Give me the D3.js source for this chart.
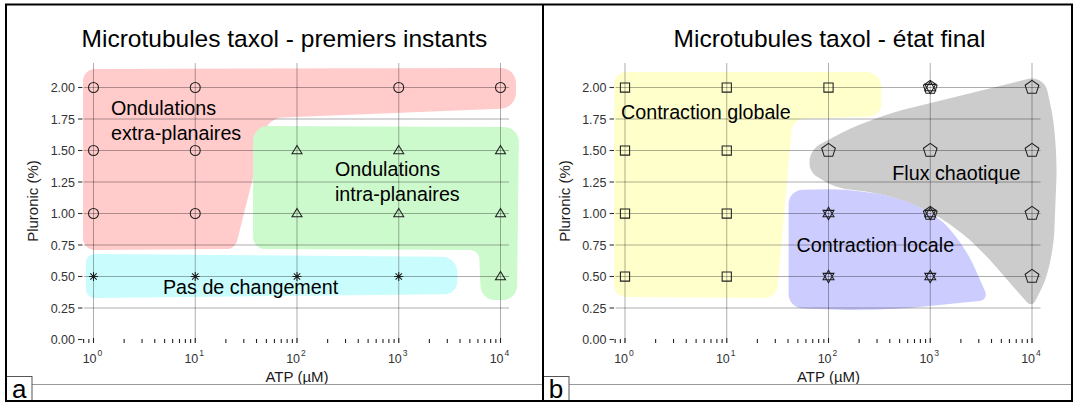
<!DOCTYPE html>
<html><head><meta charset="utf-8">
<script src="https://cdn.jsdelivr.net/npm/d3@7"></script>
<style>
body{margin:0;background:#fff}
svg{display:block}
text{font-family:"Liberation Sans",Arial,sans-serif}
</style>
</head><body>
<svg id="chart" width="1075" height="403"></svg>
<script>
// ---------- data ----------
const xTickValues = [1, 10, 100, 1000, 10000];
const xTickExponents = ["0", "1", "2", "3", "4"];
const yTickValues = [0, 0.25, 0.5, 0.75, 1, 1.25, 1.5, 1.75, 2];
const yTickLabels = ["0.00", "0.25", "0.50", "0.75", "1.00", "1.25", "1.50", "1.75", "2.00"];
const titles = ["Microtubules taxol - premiers instants", "Microtubules taxol - état final"];
const panelLetters = ["a", "b"];
const xAxisTitle = "ATP (µM)";
const yAxisTitle = "Pluronic (%)";

// panel a : [ATP µM, Pluronic %]
const ondulationsExtra = [[1,2],[10,2],[1000,2],[10000,2],[1,1.5],[10,1.5],[1,1],[10,1]];
const ondulationsIntra = [[100,1.5],[1000,1.5],[10000,1.5],[100,1],[1000,1],[10000,1],[10000,0.5]];
const pasDeChangement = [[1,0.5],[10,0.5],[100,0.5],[1000,0.5]];
// panel b
const contractionGlobale = [[1,2],[10,2],[100,2],[1,1.5],[10,1.5],[1,1],[10,1],[1,0.5],[10,0.5]];
const fluxChaotique = [[1000,2],[10000,2],[100,1.5],[1000,1.5],[10000,1.5],[1000,1],[10000,1],[10000,0.5]];
const contractionLocale = [[1000,2],[100,1],[1000,1],[100,0.5],[1000,0.5]];

// region outlines : [log10 ATP, Pluronic %]
const regionExtra = [[-0.103,2.147],[4.152,2.155],[4.152,1.837],[1.715,1.758],[1.391,0.718],[-0.103,0.710]];
const regionIntra = [[1.568,1.694],[4.182,1.687],[4.162,0.313],[3.808,0.313],[3.789,0.710],[1.568,0.718]];
const regionPas = [[-0.074,0.679],[3.575,0.655],[3.575,0.361],[-0.074,0.329]];
const regionGlobale = [[-0.108,2.123],[2.520,2.123],[2.520,1.773],[1.647,1.75],[1.490,0.329],[-0.108,0.337]];
const regionFlux = [[1.814,1.504],[2.402,1.758],[4.118,2.099],[4.255,1.583],[4.206,0.591],[4.0,0.25],
  [3.775,0.456],[3.529,0.687],[3.235,0.901],[2.892,1.060],[2.5,1.163],[2.069,1.202],[1.814,1.329]];
const regionLocale = [[1.608,1.187],[2.294,1.195],[2.941,1.067],[3.314,0.790],[3.578,0.313],[2.5,0.226],[1.608,0.25]];

// region labels : lines and anchor [log10 ATP, Pluronic %]
const labelExtra = ["Ondulations", "extra-planaires"], anchorExtra = [0.172, 1.782];
const labelIntra = ["Ondulations", "intra-planaires"], anchorIntra = [2.373, 1.298];
const labelPas = ["Pas de changement"], anchorPas = [0.683, 0.363];
const labelGlobale = ["Contraction globale"], anchorGlobale = [-0.039, 1.75];
const labelFlux = ["Flux chaotique"], anchorFlux = [2.627, 1.266];
const labelLocale = ["Contraction locale"], anchorLocale = [1.686, 0.694];

// ---------- layout / style ----------
const svg = d3.select("#chart");
svg.append("rect").attr("width",1075).attr("height",403).attr("fill","#fff");

const x = d3.scaleLog().domain([1, 10000]).range([93.5, 500.5]);
const y = d3.scaleLinear().domain([0, 2]).range([339.5, 87.5]);
const panelLeft = 84, panelRight = 509, panelTop = 63, panelBottom = 343;

function roundedPath(pts, radii) {
  const n = pts.length; let d = "";
  for (let i = 0; i < n; i++) {
    const p0 = pts[(i - 1 + n) % n], p1 = pts[i], p2 = pts[(i + 1) % n];
    const r = radii[i];
    const d1 = Math.hypot(p0[0]-p1[0], p0[1]-p1[1]), d2 = Math.hypot(p2[0]-p1[0], p2[1]-p1[1]);
    const r1 = Math.min(r, d1/2), r2 = Math.min(r, d2/2);
    const a = [p1[0] + (p0[0]-p1[0])*r1/d1, p1[1] + (p0[1]-p1[1])*r1/d1];
    const b = [p1[0] + (p2[0]-p1[0])*r2/d2, p1[1] + (p2[1]-p1[1])*r2/d2];
    const k = 0.552;
    const c1 = [a[0] + (p1[0]-a[0])*k, a[1] + (p1[1]-a[1])*k];
    const c2 = [b[0] + (p1[0]-b[0])*k, b[1] + (p1[1]-b[1])*k];
    d += (i === 0 ? "M" : "L") + a[0] + "," + a[1] + "C" + c1[0] + "," + c1[1] + " " + c2[0] + "," + c2[1] + " " + b[0] + "," + b[1];
  }
  return d + "Z";
}

// marker path generators
const shapes = {
  circle: () => "M5,0A5,5 0 1,1 -5,0A5,5 0 1,1 5,0Z",
  triangle: () => "M0,-5L5,3.2L-5,3.2Z",
  asterisk: () => "M0,-4.5V4.5M-4.5,0H4.5M-3.2,-3.2L3.2,3.2M-3.2,3.2L3.2,-3.2",
  square: () => "M-4.6,-4.6H4.6V4.6H-4.6Z",
  pentagon: () => {
    const R = 7.2; let d = "";
    for (let i = 0; i < 5; i++) { const a = -Math.PI/2 + i*2*Math.PI/5; d += (i?"L":"M") + (R*Math.cos(a)).toFixed(2) + "," + (R*Math.sin(a)).toFixed(2); }
    return d + "Z";
  },
  hexagram: () => {
    const R = 6.3; let d = "";
    [-Math.PI/2, Math.PI/2].forEach(st => {
      for (let i = 0; i < 3; i++) { const a = st + i*2*Math.PI/3; d += (i?"L":"M") + (R*Math.cos(a)).toFixed(2) + "," + (R*Math.sin(a)).toFixed(2); }
      d += "Z";
    });
    return d;
  }
};

const panels = [
  { dx: 0, titleX: 284.5, boxW: 25.5,
    regions: [
      {pts: regionExtra, r: [12,15,15,14,8,12], fill: "#ffcbcb"},
      {pts: regionIntra, r: [15,15,14,14,9,12], fill: "#cdfacd"},
      {pts: regionPas, r: [9,15,12,9], fill: "#c9fcfc"}
    ],
    series: [
      {data: ondulationsExtra, shape: "circle"},
      {data: ondulationsIntra, shape: "triangle"},
      {data: pasDeChangement, shape: "asterisk"}
    ],
    labels: [[labelExtra, anchorExtra], [labelIntra, anchorIntra], [labelPas, anchorPas]]
  },
  { dx: 531.5, titleX: 829.5, boxW: 26,
    regions: [
      {pts: regionGlobale, r: [12,15,12,12,12,12], fill: "#ffffcc"},
      {pts: regionFlux, r: [12,40,16,40,35,8,20,20,20,20,20,14,8], fill: "#cccccc"},
      {pts: regionLocale, r: [14,30,28,28,10,40,14], fill: "#ccccff"}
    ],
    series: [
      {data: contractionGlobale, shape: "square"},
      {data: fluxChaotique, shape: "pentagon"},
      {data: contractionLocale, shape: "hexagram"}
    ],
    labels: [[labelGlobale, anchorGlobale], [labelFlux, anchorFlux], [labelLocale, anchorLocale]]
  }
];

const frameLeft = [6.5, 543];
const frameRight = [543, 1072];

panels.forEach((P, pi) => {
  const g = svg.append("g").attr("transform", `translate(${P.dx},0)`);

  // regions
  g.selectAll("path.region").data(P.regions).join("path").attr("class","region")
    .attr("d", R => roundedPath(R.pts.map(p => [x(Math.pow(10, p[0])), y(p[1])]), R.r))
    .attr("fill", R => R.fill);

  // grid
  g.selectAll("line.hg").data(yTickValues.filter(v => v > 0)).join("line").attr("class","hg")
    .attr("x1", panelLeft).attr("x2", panelRight).attr("y1", d => y(d)).attr("y2", d => y(d))
    .attr("stroke", "#000").attr("stroke-opacity", 0.32).attr("stroke-width", 1);
  g.selectAll("line.vg").data(xTickValues).join("line").attr("class","vg")
    .attr("x1", d => x(d)).attr("x2", d => x(d)).attr("y1", panelTop).attr("y2", panelBottom)
    .attr("stroke", "#000").attr("stroke-opacity", 0.32).attr("stroke-width", 1);

  // log ticks along the bottom
  const lt = [];
  for (let k = -1; k <= 4; k++) for (let m = 1; m <= 9; m++) {
    const v = m * Math.pow(10, k), px = x(v);
    if (px >= panelLeft - 1 && px <= panelRight) lt.push({v, m});
  }
  g.selectAll("line.lt").data(lt).join("line").attr("class","lt")
    .attr("x1", d => x(d.v)).attr("x2", d => x(d.v))
    .attr("y1", panelBottom).attr("y2", d => panelBottom - (d.m === 1 ? 5 : 4))
    .attr("stroke", "#222").attr("stroke-width", 1.1);

  // y axis ticks + labels
  const ya = g.append("g");
  ya.selectAll("line").data(yTickValues).join("line")
    .attr("x1", 78).attr("x2", 82.5).attr("y1", d => y(d)).attr("y2", d => y(d))
    .attr("stroke", "#333").attr("stroke-width", 1.1);
  ya.selectAll("text").data(yTickValues).join("text")
    .attr("x", 75).attr("y", d => y(d)).attr("dy", "0.36em").attr("text-anchor", "end")
    .attr("font-size", 12.5).attr("fill", "#333").text((d, i) => yTickLabels[i]);

  // x tick labels 10^k
  const xl = g.append("g").selectAll("text").data(xTickValues).join("text")
    .attr("x", d => x(d) - 1).attr("y", 363).attr("text-anchor", "middle")
    .attr("font-size", 12.5).attr("fill", "#333");
  xl.append("tspan").text("10");
  xl.append("tspan").attr("font-size", 8.5).attr("dy", -7).attr("dx", 1).text((d, i) => xTickExponents[i]);

  // axis titles
  g.append("text").attr("x", (x(1) + x(10000)) / 2).attr("y", 382).attr("text-anchor", "middle")
    .attr("font-size", 15).attr("fill", "#1a1a1a").text(xAxisTitle);
  g.append("text").attr("transform", `translate(38,201) rotate(-90)`).attr("text-anchor", "middle")
    .attr("font-size", 15).attr("fill", "#1a1a1a").text(yAxisTitle);

  // markers
  P.series.forEach(S => {
    g.selectAll(null).data(S.data).join("path")
      .attr("transform", d => `translate(${x(d[0])},${y(d[1])})`)
      .attr("d", shapes[S.shape]())
      .attr("fill", "none").attr("stroke", "#1e1e1e").attr("stroke-width", 1.05);
  });

  // region labels
  P.labels.forEach(([lines, anchor]) => {
    const t = g.append("text").attr("font-size", 19.7).attr("fill", "#000");
    lines.forEach((ln, li) => {
      t.append("tspan").attr("x", x(Math.pow(10, anchor[0]))).attr("y", y(anchor[1]) + li * 25).text(ln);
    });
  });

  // title (absolute coords)
  svg.append("text").attr("x", P.titleX).attr("y", 47).attr("text-anchor", "middle")
    .attr("font-size", 24.5).attr("fill", "#000").text(titles[pi]);

  // bottom separator line and letter box (absolute)
  const bx = frameLeft[pi];
  svg.append("line").attr("x1", bx + P.boxW).attr("x2", frameRight[pi]).attr("y1", 384.5).attr("y2", 384.5)
    .attr("stroke", "#999").attr("stroke-width", 1);
  svg.append("rect").attr("x", bx).attr("y", 376.5).attr("width", P.boxW).attr("height", 24.5)
    .attr("fill", "#fff").attr("stroke", "#555").attr("stroke-width", 1);
  svg.append("text").attr("x", bx + P.boxW / 2).attr("y", 398).attr("text-anchor", "middle")
    .attr("font-size", 26).attr("font-family", "DejaVu Sans").attr("fill", "#000").text(panelLetters[pi]);
});

// outer frame and divider
svg.append("rect").attr("x", 6).attr("y", 4.5).attr("width", 1066).attr("height", 396.5)
  .attr("fill", "none").attr("stroke", "#000").attr("stroke-width", 2);
svg.append("line").attr("x1", 543).attr("x2", 543).attr("y1", 4.5).attr("y2", 401)
  .attr("stroke", "#000").attr("stroke-width", 2);
</script>
</body></html>
